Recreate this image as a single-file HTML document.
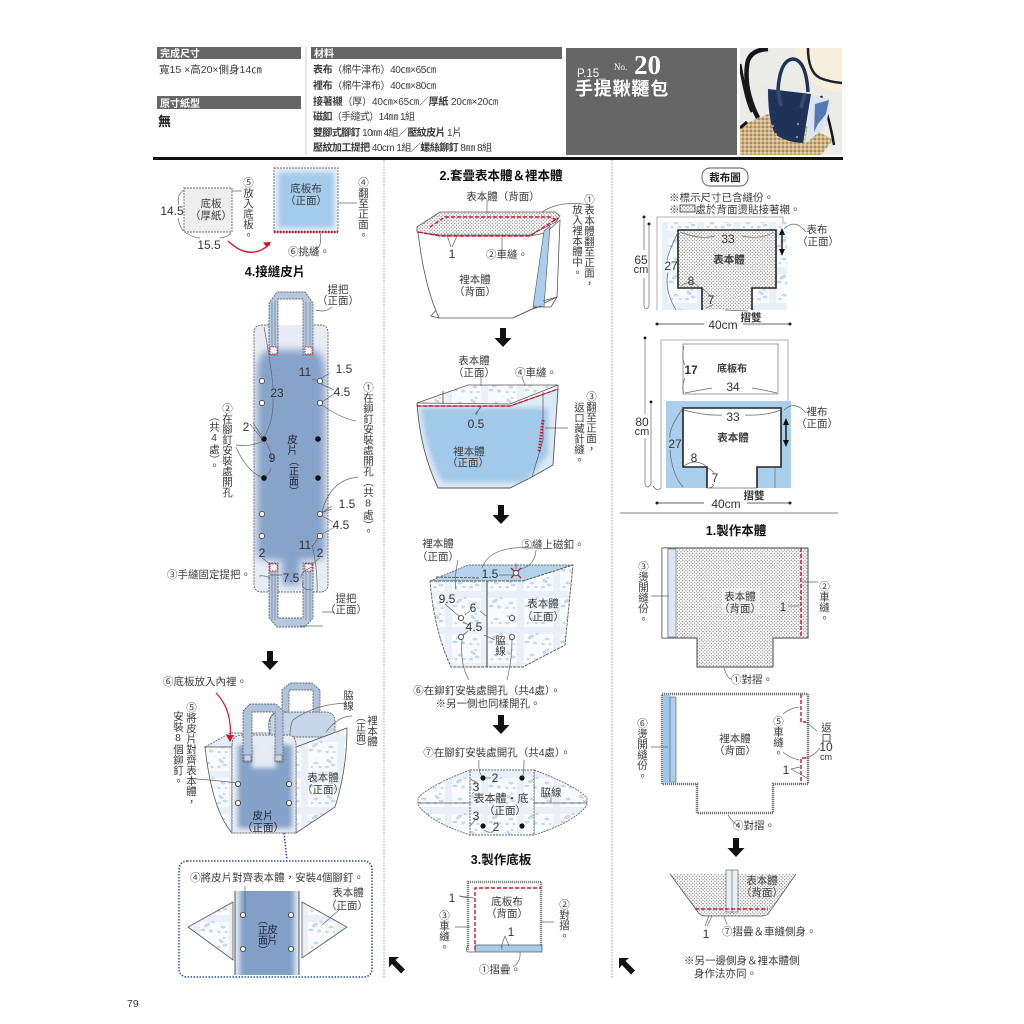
<!DOCTYPE html>
<html lang="zh-TW"><head><meta charset="utf-8"><title>手提鞦韆包</title>
<style>
html,body{margin:0;padding:0;background:#fff}
svg{display:block}
text{font-family:"Liberation Sans","Noto Sans CJK TC",sans-serif;font-size:10.5px;fill:#3c3c3c}
.m{text-anchor:middle}
.n{font-size:12px;text-anchor:middle;fill:#333}
.v{writing-mode:vertical-rl;text-orientation:upright;font-size:10.5px}
.h{font-weight:700;fill:#111;font-size:12.5px;text-anchor:middle}
.w{fill:#fff;font-size:10px;font-weight:700}
.l{fill:none;stroke:#666;stroke-width:.7}
.o{stroke:#666;stroke-width:.9;stroke-dasharray:2 1}
.s{stroke:#555;stroke-width:.8}
.r{fill:none;stroke:#d3132c;stroke-width:1.4;stroke-dasharray:4 2}
.b{fill:none;stroke:#222;stroke-width:1.6}
</style></head><body>
<svg xmlns="http://www.w3.org/2000/svg" width="1024" height="1024" viewBox="0 0 1024 1024">
<defs>
<pattern id="dot" width="3.4" height="3.4" patternUnits="userSpaceOnUse"><rect width="3.4" height="3.4" fill="#fff"/><circle cx=".9" cy=".9" r=".62" fill="#777"/><circle cx="2.6" cy="2.6" r=".62" fill="#777"/></pattern>
<pattern id="fl" width="36" height="36" patternUnits="userSpaceOnUse"><rect width="36" height="36" fill="#f8fbfd"/><rect x="13" width="7" height="36" fill="#e9f0f8"/><rect y="15" width="36" height="7" fill="#e9f0f8"/>
<g fill="#c9d8ea"><ellipse cx="5" cy="5" rx="3" ry="1.600" transform="rotate(35 5 5)"/><ellipse cx="9" cy="9" rx="2.500" ry="1.400"/><ellipse cx="3" cy="11" rx="2" ry="1.200"/><ellipse cx="8" cy="2" rx="1.600" ry="1"/><ellipse cx="27" cy="25" rx="3.500" ry="1.800" transform="rotate(-30 27 25)"/><ellipse cx="23" cy="30" rx="2.500" ry="1.400"/><ellipse cx="31" cy="31" rx="2" ry="1.500"/><ellipse cx="33" cy="22" rx="1.600" ry="1.100"/><ellipse cx="7" cy="27" rx="2.500" ry="1.400"/><ellipse cx="3" cy="32" rx="1.800" ry="1.100"/><ellipse cx="10" cy="32" rx="1.500" ry="1"/><ellipse cx="28" cy="7" rx="2.500" ry="1.400"/><ellipse cx="32" cy="11" rx="1.800" ry="1.100"/><ellipse cx="24" cy="11" rx="1.500" ry="1"/></g></pattern>
<pattern id="rat" width="4" height="4" patternUnits="userSpaceOnUse"><rect width="4" height="4" fill="#cdb283"/><circle cx="1" cy="1" r=".9" fill="#f0e4c8"/><circle cx="3" cy="3" r=".9" fill="#8d7547"/></pattern>
<filter id="bl" x="-30%" y="-30%" width="160%" height="160%"><feGaussianBlur stdDeviation="4"/></filter>
<filter id="bs" x="-30%" y="-30%" width="160%" height="160%"><feGaussianBlur stdDeviation="2.500"/></filter>
<path id="da" d="M-3-10h6V0h5.500L0 9-8.500 0H-3z" fill="#111"/>
<path id="na" d="M-8-8H2L-1.500-5 8 4.500 4 8.500-5-1-8 2.500z" fill="#111"/>
<clipPath id="c1"><path d="M262 325H269V355H278V325H303V355H313V325H320Q328 325 328 333V584Q328 592 320 592H313V563H303V592H278V563H269V592H262Q254 592 254 584V333Q254 325 262 325Z"/></clipPath>
<clipPath id="c2"><path d="M232 745Q232 735 243 735H296V833H232Z"/></clipPath>
<clipPath id="c3"><rect x="235" y="891" width="64" height="84"/></clipPath>
<clipPath id="c4"><path d="M417 406H510L558 389 553 465 532 477 510 488H438Q420 450 417 406Z"/></clipPath>
<clipPath id="c5"><rect x="274" y="168" width="64" height="64"/></clipPath>
<clipPath id="ph"><rect x="740" y="48" width="102" height="107"/></clipPath>
</defs>
<rect width="1024" height="1024" fill="#fff"/>

<!-- HEADER -->
<rect x="157" y="47" width="144" height="12" fill="#666"/><text x="160" y="57" class="w">完成尺寸</text>
<text x="159" y="73">寬15 ×高20×側身14㎝</text>
<rect x="157" y="96" width="144" height="13" fill="#666"/><text x="160" y="107" class="w">原寸紙型</text>
<text x="158" y="126" style="font-size:13px;font-weight:700;fill:#111">無</text>
<path d="M306 47V155" stroke="#bbb" stroke-width=".7"/>
<rect x="311" y="47" width="251" height="12" fill="#666"/><text x="314" y="57" class="w">材料</text>
<text x="313" y="73" textLength="123" style="font-size:10px"><tspan font-weight="700">表布</tspan>（棉牛津布）40㎝×65㎝</text>
<text x="313" y="89" textLength="123" style="font-size:10px"><tspan font-weight="700">裡布</tspan>（棉牛津布）40㎝×80㎝</text>
<text x="313" y="105" textLength="185" style="font-size:10px"><tspan font-weight="700">接著襯</tspan>（厚）40㎝×65㎝／<tspan font-weight="700">厚紙</tspan> 20㎝×20㎝</text>
<text x="313" y="120" textLength="102" style="font-size:10px"><tspan font-weight="700">磁釦</tspan>（手縫式）14㎜ 1組</text>
<text x="313" y="136" textLength="149" style="font-size:10px"><tspan font-weight="700">雙腳式腳釘</tspan> 10㎜ 4組／<tspan font-weight="700">壓紋皮片</tspan> 1片</text>
<text x="313" y="151" textLength="179" style="font-size:10px"><tspan font-weight="700">壓紋加工提把</tspan> 40cm 1組／<tspan font-weight="700">螺絲鉚釘</tspan> 8㎜ 8組</text>
<rect x="566" y="48" width="171" height="107" fill="#666"/>
<text x="577" y="77" style="fill:#fff;font-size:11.500px">P.15_</text>
<text x="614" y="70" style="fill:#fff;font:9px 'Liberation Serif',serif">No.</text>
<text x="634" y="74" style="fill:#fff;font:700 27px 'Liberation Serif',serif">20</text>
<text x="575" y="95" style="fill:#fff;font-size:18px;font-weight:700;letter-spacing:.8px">手提鞦韆包</text>
<!-- photo -->
<g clip-path="url(#ph)">
<rect x="740" y="48" width="102" height="107" fill="#ebebe7"/>
<path d="M793 48H842V92Q815 90 803 72Z" fill="#f6efdc"/>
<path d="M808 48Q808 72 820 78Q830 82 842 83" fill="none" stroke="#1c2230" stroke-width="2.500"/>
<path d="M740 126L768 114Q800 120 833 140L821 155H740Z" fill="url(#rat)"/>
<path d="M768 49Q748 50 747 66Q744 90 758 118" fill="none" stroke="#17171b" stroke-width="4.500"/>
<path d="M740 64Q746 100 752 112M740 128L747 122" fill="none" stroke="#17171b" stroke-width="3"/>
<path d="M821 96Q830 120 834 145" fill="none" stroke="#17171b" stroke-width="2.500"/>
<path d="M765 86L775 91 770 112Z" fill="#dfe7f2"/>
<path d="M811 96L831 99 826 126 805 144Z" fill="#dbe5f1"/>
<path d="M815 104l14-4-3 14-8 10-4 8z" fill="#5579b3"/>
<path d="M778 90Q780 60 793 59Q806 60 808 92" fill="none" stroke="#1f3358" stroke-width="3.500"/>
<path d="M768 89L811 94 803 143Q785 142 775 134Q768 120 768 89Z" fill="#1f3358"/>
<path d="M778 90L781 106M805 94L801 108" stroke="#34496f" stroke-width="4"/>
<circle cx="773" cy="126" r=".9" fill="#ddd"/><circle cx="798" cy="124" r=".9" fill="#ddd"/><circle cx="776" cy="134" r=".9" fill="#ddd"/><circle cx="797" cy="137" r=".9" fill="#ddd"/>
</g>
<rect x="153" y="157" width="690" height="3" fill="#111"/>

<!-- separators -->
<path d="M384 160V978M612 160V978" stroke="#aaa" stroke-width="1.200" stroke-dasharray="1.500 1.500"/>
<path d="M620 513H838" stroke="#999" stroke-width="1.200"/>

<!-- ========== LEFT COLUMN ========== -->
<rect x="184" y="188" width="48" height="44" fill="#eee" class="o"/>
<text x="211" y="207" class="m">底板</text><text x="211" y="219" class="m">（厚紙）</text>
<path class="l" d="M184 190Q176 195 179 205M178 218Q180 228 184 231M186 233Q195 238 200 238M220 238Q228 237 231 233M232 191H242"/>
<text x="172" y="215" class="n">14.5</text><text x="209" y="249" class="n">15.5</text>
<rect x="274" y="168" width="64" height="64" fill="#e9f1f9"/>
<g clip-path="url(#c5)"><rect x="278" y="172" width="56" height="56" fill="#a5cbea" filter="url(#bs)"/></g>
<rect x="274" y="168" width="64" height="64" fill="none" class="o"/>
<path d="M274 232H338" stroke="#d3132c" stroke-width="2.500" stroke-dasharray="1.500 1.500"/>
<text x="306" y="192" class="m">底板布</text><text x="306" y="204" class="m">（正面）</text>
<path d="M228 241Q250 262 270 244" fill="none" stroke="#d3132c" stroke-width="1.300"/><path d="M271 242l-8 .5 4 5z" fill="#d3132c"/>
<text x="248" y="177" class="v">⑤放入底板。</text>
<text x="363" y="177" class="v">④翻至正面。</text>
<path class="l" d="M338 203H357M320 232Q322 244 318 248"/>
<text x="309" y="255" class="m">⑥挑縫。</text>
<text x="275" y="276" class="h">4.接縫皮片</text>

<!-- leather strip -->
<path d="M262 325H320Q328 325 328 333V584Q328 592 320 592H262Q254 592 254 584V333Q254 325 262 325Z" fill="#e8edf5"/>
<g clip-path="url(#c1)"><path d="M257 372Q257 354 268 350H314Q325 354 325 372V552Q325 560 314 560H300V585H282V560H268Q257 560 257 552Z" fill="#86a3c9" filter="url(#bl)"/></g>
<path d="M269 325H262Q254 325 254 333V584Q254 592 262 592H269M313 592H320Q328 592 328 584V333Q328 325 320 325H313M278 592H303" fill="none" class="o"/>
<!-- handles -->
<path d="M269 355V303L277 292H305L313 303V355H303V299H278V355Z" fill="#b6c8df" class="o"/>
<path d="M269 563V618L277 627H305L313 618V563H303V618H278V563Z" fill="#b6c8df" class="o"/>
<path d="M272 355V302M275 355V300M306 355V302M310 355V302M272 563V620M275 563V620M306 563V620M310 563V620" stroke="#567" stroke-width=".5"/>
<g fill="#fff" stroke="#d3132c" stroke-width="1" stroke-dasharray="1.500 1"><rect x="270" y="347" width="7" height="7"/><rect x="305" y="347" width="7" height="7"/><rect x="270" y="564" width="7" height="7"/><rect x="305" y="564" width="7" height="7"/></g>
<g fill="#fff" stroke="#333" stroke-width=".7"><circle cx="262" cy="381" r="2.600"/><circle cx="262" cy="403" r="2.600"/><circle cx="320" cy="381" r="2.600"/><circle cx="320" cy="403" r="2.600"/><circle cx="262" cy="514" r="2.600"/><circle cx="262" cy="536" r="2.600"/><circle cx="320" cy="514" r="2.600"/><circle cx="320" cy="536" r="2.600"/></g>
<g fill="#111"><circle cx="264" cy="439" r="2.800"/><circle cx="264" cy="478" r="2.800"/><circle cx="318" cy="439" r="2.800"/><circle cx="318" cy="478" r="2.800"/></g>
<path class="l" d="M264 327Q272 370 273 388M273 398Q274 420 264 437M266 442Q274 458 271 462M271 468Q270 474 265 476M253 423L263 438M250 424L262 439M236 445Q252 447 263 441M236 447Q246 470 261 477M312 379L318 381M320 379L330 373M321 384L334 390M322 402L334 394M322 405Q340 418 356 421M322 512Q330 480 358 477M321 513L332 506M321 513L332 509M322 516L333 522M322 534L335 527M312 547L318 538M312 545Q318 570 317 592M322 612H334M316 310Q325 313 332 307M282 575H270M262 558Q268 562 270 565M320 558Q314 562 312 565M312 567Q300 572 301 578M312 590Q300 590 303 582M270 578Q264 575 259 576M300 626H323"/>
<text x="338" y="293" class="m">提把</text><text x="338" y="304" class="m">（正面）</text>
<text x="305" y="376" class="n">11</text><text x="344" y="373" class="n">1.5</text><text x="342" y="396" class="n">4.5</text><text x="277" y="397" class="n">23</text>
<text x="368" y="382" class="v">①在鉚釘安裝處開孔（共8處）。</text>
<text x="227" y="403" class="v">②在腳釘安裝處開孔</text>
<text x="214" y="411" class="v">（共4處）。</text>
<text x="246" y="431" class="n">2</text><text x="272" y="462" class="n">9</text>
<text x="292" y="434" class="v" style="fill:#223">皮片</text><text x="292" y="456" class="v" style="fill:#223;font-size:10px">（正面）</text>
<text x="347" y="508" class="n">1.5</text><text x="341" y="529" class="n">4.5</text><text x="305" y="549" class="n">11</text>
<text x="262" y="557" class="n">2</text><text x="320" y="557" class="n">2</text><text x="291" y="582" class="n">7.5</text>
<text x="167" y="578">③手縫固定提把。</text>
<text x="346" y="602" class="m">提把</text><text x="346" y="613" class="m">（正面）</text>

<use href="#da" x="270" y="661"/>
<text x="163" y="685">⑥底板放入內裡。</text>
<!-- bag 1 -->
<path d="M205 747L230 733H347L296 747Z" fill="#e3eef8" class="o"/>
<path d="M270 737V722Q270 712 280 712H325Q335 712 335 722V732L330 737Z" fill="#c6d5e8" class="o"/>
<path d="M282 712V690L290 683H312L320 690V712H313V690H289V712Z" fill="#afc3dc" class="o"/>
<path d="M296 747L347 728Q347 770 335 807L296 833Z" fill="url(#fl)" class="s"/>
<path d="M205 747H232V833Q212 810 205 747Z" fill="url(#fl)" class="s"/>
<path d="M232 745Q232 735 243 735H290Q296 737 296 745V833H232Z" fill="#e6ecf5"/>
<g clip-path="url(#c2)"><path d="M238 745H252V768H276V745H292V828H238Z" fill="#85a2c8" filter="url(#bs)"/></g>
<path d="M232 745Q232 735 243 735H290Q296 737 296 745V833H232Z" fill="none" class="o"/>
<path d="M243 762V711L250 704H276L283 711V762H275V712H252V762Z" fill="#afc3dc" class="o"/>
<rect x="244" y="755" width="7" height="6" fill="#c7d4e6" stroke="#555" stroke-width=".5"/><rect x="275" y="755" width="7" height="6" fill="#c7d4e6" stroke="#555" stroke-width=".5"/>
<g fill="#fff" stroke="#333" stroke-width=".8"><circle cx="238" cy="784" r="2.600"/><circle cx="238" cy="803" r="2.600"/><circle cx="289" cy="784" r="2.600"/><circle cx="289" cy="803" r="2.600"/></g>
<path d="M216 693Q233 710 230 741" fill="none" stroke="#d3132c" stroke-width="1.200"/><path d="M230 742l-4-7 8 0z" fill="#d3132c"/>
<path class="l" d="M195 779Q215 780 236 783M347 703Q315 704 293 720Q290 726 290 735M352 716Q338 716 326 732M270 735Q266 718 274 714"/>
<text x="191" y="702" class="v">⑤將皮片對齊表本體，</text>
<text x="178" y="711" class="v">安裝8個鉚釘。</text>
<text x="348" y="690" class="v">脇線</text>
<text x="372" y="715" class="v">裡本體</text>
<text x="359" y="712" class="v" style="font-size:10px">（正面）</text>
<text x="323" y="781" class="m">表本體</text><text x="323" y="793" class="m">（正面）</text>
<text x="263" y="819" class="m" style="fill:#223">皮片</text><text x="263" y="831" class="m" style="fill:#223">（正面）</text>
<path d="M284 833L287 860" stroke="#2b4f92" stroke-width="1.500" stroke-dasharray="1.500 1.500"/>
<rect x="179" y="861" width="193" height="116" rx="8" fill="#fff" stroke="#2b4f92" stroke-width="1.500" stroke-dasharray="1.500 1.500"/>
<text x="277" y="881" class="m">④將皮片對齊表本體，安裝4個腳釘。</text>
<path d="M233 902L188 927 233 960Z" fill="url(#fl)" class="s"/>
<path d="M302 902L347 927 302 958Z" fill="url(#fl)" class="s"/>
<rect x="235" y="891" width="64" height="84" fill="#dce5f1"/>
<g clip-path="url(#c3)"><rect x="240" y="880" width="54" height="100" fill="#82a0c7" filter="url(#bs)"/></g>
<path d="M235 891V975M299 891V975" stroke="#444" stroke-width=".9"/>
<g fill="#fff" stroke="#333" stroke-width=".8"><circle cx="243" cy="915" r="2.600"/><circle cx="291" cy="915" r="2.600"/><circle cx="243" cy="949" r="2.600"/><circle cx="291" cy="949" r="2.600"/></g>
<path class="l" d="M245 886V913M339 910L322 925"/>
<text x="348" y="896" class="m">表本體</text><text x="347" y="909" class="m">（正面）</text>
<text x="272" y="924" class="v" style="fill:#223">皮片</text><text x="261" y="915" class="v" style="fill:#223;font-size:10px">（正面）</text>

<!-- ========== MIDDLE COLUMN ========== -->
<text x="501" y="180" class="h">2.套疊表本體＆裡本體</text>
<text x="503" y="200" class="m">表本體（背面）</text>
<path d="M418 232Q424 285 439 318H513L530 310 557 297 560 220 545 233 530 236H440Z" fill="#fff" class="s"/>
<path d="M417 227L440 212H555L560 216 556 222 530 235H440L417 232Z" fill="url(#dot)" stroke="#555" stroke-width=".8"/>
<path d="M544 231L550 226 544 307 533 307Z" fill="#a9cfee" stroke="#555" stroke-width=".6"/>
<path d="M533 307L551 307 557 297 543 301M439 318L431 316 436 310M513 318L530 310 541 306" fill="none" stroke="#555" stroke-width=".8"/>
<path class="r" d="M418 232L440 236H530L558 218"/><path class="r" d="M430 227L445 217H550L557 220"/>
<path class="l" d="M487 200V214M590 205Q560 200 542 212M457 236L452 247M447 235L451 247M502 236V250"/>
<text x="452" y="258" class="n">1</text><text x="507" y="258" class="m">②車縫。</text>
<text x="475" y="283" class="m">裡本體</text><text x="475" y="295" class="m">（背面）</text>
<text x="589" y="194" class="v">①表本體翻至正面，</text><text x="577" y="204" class="v">放入裡本體中。</text>
<use href="#da" x="503" y="338"/>
<text x="474" y="364" class="m">表本體</text><text x="474" y="376" class="m">（正面）</text><text x="536" y="376" class="m">④車縫。</text>
<path d="M417 403L468 385H558L510 404Z" fill="url(#fl)" class="s"/>
<path d="M417 406H510L558 389 553 465 532 477 510 488H438Q420 450 417 406Z" fill="#dceaf6"/>
<g clip-path="url(#c4)"><path d="M421 408H548V455L525 482H442Q425 450 421 408Z" fill="#a2c9e9" filter="url(#bs)"/></g>
<path d="M417 403V406H510L558 389V385M558 389L553 465 532 477 510 488H438Q420 450 417 403M443 391V404" fill="none" stroke="#555" stroke-width=".9"/>
<path d="M543 392V440L532 477" fill="none" stroke="#555" stroke-width=".7"/>
<path class="r" d="M417 406H510L558 389"/>
<path d="M543 420L539 452" stroke="#d3132c" stroke-width="3" stroke-dasharray="1.500 1.500"/>
<path class="l" d="M480 407L476 415M481 407L475 414M545 428H568M522 377L525 386M481 373V386"/>
<text x="476" y="428" class="n">0.5</text>
<text x="469" y="455" class="m">裡本體</text><text x="468" y="466" class="m">（正面）</text>
<text x="591" y="391" class="v">③翻至正面，</text><text x="579" y="402" class="v">返口藏針縫。</text>
<use href="#da" x="501" y="515"/>
<text x="438" y="547" class="m">裡本體</text><text x="438" y="560" class="m">（正面）</text><text x="553" y="548" class="m">⑤縫上磁釦。</text>
<path d="M430 581L468 565H573L523 581Z" fill="#b4d4ee" class="o"/>
<path d="M430 581H487V667H451Q434 630 430 581Z" fill="url(#fl)"/>
<path d="M487 581H523L573 565 565 645 523 667H487Z" fill="url(#fl)"/>
<path d="M430 581H523L573 565 565 645 523 667H451Q434 630 430 581M436 577L480 578" fill="none" stroke="#555" stroke-width=".9" stroke-dasharray="3 1"/>
<path d="M487 581V667" stroke="#444" stroke-width="1"/>
<g stroke="#d3132c" stroke-width="1.300"><path d="M511 568l10 10M521 568l-10 10"/></g><circle cx="516" cy="573" r="2.500" fill="#fff" stroke="#333" stroke-width=".7"/>
<g fill="#fff" stroke="#333" stroke-width=".8"><circle cx="461" cy="618" r="2.600"/><circle cx="461" cy="637" r="2.600"/><circle cx="512" cy="618" r="2.600"/><circle cx="512" cy="637" r="2.600"/></g>
<path class="l" d="M458 560Q454 578 456 590M445 604Q454 612 460 617M465 615L470 611M480 611L486 616M463 622L469 625M463 635L468 631M484 635L495 640M462 640Q460 665 469 680M512 640Q512 660 507 680M532 548Q490 545 482 568M536 550Q535 565 521 569M516 563V570M499 575H513"/>
<text x="490" y="578" class="n">1.5</text><text x="447" y="603" class="n">9.5</text><text x="473" y="612" class="n">6</text><text x="474" y="631" class="n">4.5</text>
<text x="543" y="607" class="m">表本體</text><text x="543" y="620" class="m">（正面）</text>
<text x="500" y="635" class="v">脇線</text>
<text x="487" y="694" class="m">⑥在鉚釘安裝處開孔（共4處）。</text>
<text x="488" y="707" class="m">※另一側也同樣開孔。</text>
<use href="#da" x="501" y="725"/>
<text x="497" y="756" class="m">⑦在腳釘安裝處開孔（共4處）。</text>
<path d="M470 770Q430 785 418 798V805Q430 822 470 835Z" fill="url(#fl)" class="o"/>
<path d="M534 770Q575 785 587 798V805Q575 822 534 835Z" fill="url(#fl)" class="o"/>
<rect x="470" y="770" width="64" height="65" fill="url(#fl)" class="o"/>
<path d="M418 803H470M534 803H587" stroke="#555" stroke-width=".8"/>
<g fill="#111"><circle cx="483" cy="778" r="2.600"/><circle cx="522" cy="778" r="2.600"/><circle cx="483" cy="826" r="2.600"/><circle cx="522" cy="826" r="2.600"/></g>
<path class="l" d="M479 760Q478 772 482 776M524 760Q524 770 523 776M486 778H491M470 779L476 782M472 794L474 792M470 826L475 820M484 830Q490 834 494 831M551 797V803"/>
<text x="495" y="782" class="n">2</text><text x="476" y="791" class="n">3</text><text x="476" y="820" class="n">3</text><text x="496" y="831" class="n">2</text>
<text x="501" y="802" class="m" style="font-size:11px">表本體・底</text><text x="505" y="814" class="m">（正面）</text><text x="551" y="796" class="m">脇線</text>
<text x="501" y="864" class="h">3.製作底板</text>
<rect x="468" y="882" width="73" height="68" fill="#fff"/>
<path d="M541 882H468V950M541 882V950" fill="none" stroke="#888" stroke-width="2.500" stroke-dasharray="1.200 .8"/>
<rect x="475" y="945" width="67" height="7" fill="#a6cdee" stroke="#555" stroke-width=".7"/>
<path d="M469 945Q464 950 468 952H475" fill="none" stroke="#555" stroke-width=".7"/>
<path class="r" d="M475 950V888H541"/>
<path class="l" d="M459 896L468 898M459 896L474 898M455 927H470M541 922H554M502 950V946M505 936L501 947M505 936L509 946M520 952Q521 962 513 967"/>
<text x="507" y="905" class="m">底板布</text><text x="507" y="917" class="m">（背面）</text>
<text x="452" y="902" class="n">1</text><text x="511" y="936" class="n">1</text>
<text x="444" y="910" class="v">③車縫。</text><text x="564" y="899" class="v">②對摺。</text>
<text x="500" y="973" class="m">①摺疊。</text>
<use href="#na" x="397" y="965"/><use href="#na" x="627" y="966"/>

<!-- ========== RIGHT COLUMN ========== -->
<rect x="702" y="168" width="46" height="18" rx="8" fill="#fff" stroke="#555" stroke-width=".9"/>
<text x="725" y="181" class="m" style="font-weight:700;fill:#222">裁布圖</text>
<text x="669" y="201">※標示尺寸已含縫份。</text>
<text x="669" y="213">※<tspan dx="16">處於背面燙貼接著襯。</tspan></text>
<rect x="680" y="205" width="15" height="7" fill="url(#dot)" stroke="#333" stroke-width=".8"/>
<path d="M657 310V217H783V222" fill="none" stroke="#999" stroke-width=".8"/>
<rect x="662" y="222" width="125" height="88" fill="url(#fl)"/>
<path d="M678 230H776V288H752V310H702V288H678Z" fill="url(#dot)"/>
<path class="b" d="M702 310V288H678V230H776V288H752V310"/>
<path d="M782 230V254" stroke="#111" stroke-width="1.400"/><path d="M782 228l-3 7h6zM782 256l-3-7h6z" fill="#111"/>
<path class="l" d="M680 232Q700 240 715 236M742 236Q760 240 774 232M678 232Q664 262 668 262M668 272Q664 290 676 310M681 286Q692 278 700 288M703 289Q710 295 711 297M706 308Q712 306 713 304M784 229Q795 218 806 232M725 310L748 311"/>
<rect x="665" y="260" width="12" height="13" fill="#fff" opacity=".5"/>
<text x="728" y="243" class="n">33</text><text x="729" y="263" class="m" style="font-weight:700">表本體</text>
<text x="671" y="270" class="n">27</text><text x="691" y="285" class="n">8</text><text x="711" y="304" class="n">7</text>
<circle cx="644" cy="217" r="1.500" fill="#222"/><circle cx="649" cy="224" r="1.500" fill="#222"/>
<path class="l" d="M644 219V250M644 278V306Q646 312 649 306V226"/>
<text x="641" y="264" class="n">65</text><text x="641" y="273" class="n" style="font-size:11px">cm</text>
<text x="817" y="233" class="m">表布</text><text x="818" y="245" class="m">（正面）</text>
<text x="751" y="321" class="m" style="font-weight:700">摺雙</text>
<path d="M657 324H704M743 324H790" stroke="#333" stroke-width=".7"/><circle cx="657" cy="324" r="1.500" fill="#222"/><circle cx="790" cy="324" r="1.500" fill="#222"/>
<text x="723" y="329" class="n">40cm</text>

<path d="M661 488V340H788V401" fill="none" stroke="#999" stroke-width=".8"/>
<rect x="683" y="344" width="95" height="50" fill="#fff" stroke="#888" stroke-width=".8"/>
<path class="l" d="M684 346Q681 358 685 365M685 378Q681 388 684 393M685 393Q700 390 712 388M752 388Q765 390 777 393"/>
<text x="732" y="372" class="m" style="font-size:10px;font-weight:700">底板布</text>
<text x="691" y="374" class="n" style="font-weight:700">17</text><text x="733" y="391" class="n">34</text>
<path d="M666 401H791V488H757V467H781V408H683V467H707V488H666Z" fill="#a9cfec"/>
<path class="b" d="M707 488V467H683V408H781V467H757V488"/>
<path d="M786 420V445" stroke="#111" stroke-width="1.400"/><path d="M786 418l-3 7h6zM786 447l-3-7h6z" fill="#111"/>
<path class="l" d="M684 410Q705 416 722 415M745 415Q765 416 781 410M683 408Q668 430 670 438M670 450Q672 475 683 487M684 466Q695 458 706 466M708 468Q715 472 713 474M712 484Q716 486 709 488M784 410Q795 400 806 413M707 488H757M775 467V488"/>
<text x="733" y="421" class="n">33</text><text x="733" y="441" class="m" style="font-weight:700">表本體</text>
<text x="675" y="448" class="n">27</text><text x="694" y="462" class="n">8</text><text x="715" y="482" class="n">7</text>
<circle cx="645" cy="338" r="1.500" fill="#222"/><circle cx="651" cy="402" r="1.500" fill="#222"/>
<path class="l" d="M645 340V414M645 438V484Q647 490 651 484V404M661 488Q657 492 653 486"/>
<text x="642" y="426" class="n">80</text><text x="642" y="435" class="n" style="font-size:11px">cm</text>
<text x="817" y="415" class="m">裡布</text><text x="817" y="427" class="m">（正面）</text>
<text x="754" y="499" class="m" style="font-weight:700">摺雙</text>
<path d="M657 503H704M747 503H790" stroke="#333" stroke-width=".7"/><circle cx="657" cy="503" r="1.500" fill="#222"/><circle cx="790" cy="503" r="1.500" fill="#222"/>
<text x="726" y="508" class="n">40cm</text>

<text x="736" y="535" class="h">1.製作本體</text>
<path d="M662 548H808V638H773V667H697V638H662Z" fill="url(#dot)" stroke="#666" stroke-width="1.200"/>
<rect x="662" y="548" width="6" height="90" fill="#fff" stroke="#666" stroke-width=".7"/>
<rect x="668" y="549" width="8" height="88" fill="#dde8f4" stroke="#666" stroke-width=".6"/>
<path class="r" d="M801 548V638"/>
<path class="l" d="M651 596H669M788 606H799M802 582H818M724 668Q728 680 732 679"/>
<rect x="722" y="588" width="38" height="26" fill="#fff" opacity=".45"/>
<text x="740" y="600" class="m">表本體</text><text x="740" y="612" class="m">（背面）</text>
<text x="783" y="611" class="n">1</text>
<text x="643" y="561" class="v">③燙開縫份。</text><text x="824" y="581" class="v">②車縫。</text>
<text x="752" y="683" class="m">①對摺。</text>

<path d="M662 694H808V784H773V813H697V784H662Z" fill="#fff"/>
<path d="M662 694H808V784H773V813H697V784H662Z" fill="none" stroke="#777" stroke-width="2.500" stroke-dasharray="1.200 .8"/>
<rect x="663" y="695" width="7" height="88" fill="#9bc8ec"/><rect x="670" y="697" width="6" height="85" fill="#a9cfee" stroke="#555" stroke-width=".6"/>
<path class="r" d="M801 694V722H806"/><path class="r" d="M806 758H801V784"/>
<path class="l" d="M651 747H668M783 714Q790 708 799 707M783 752Q790 758 799 760M806 722L817 731M806 758Q814 756 820 748M791 769L800 767M791 769L807 778M728 815Q735 825 738 825"/>
<text x="735" y="742" class="m">裡本體</text><text x="735" y="754" class="m">（背面）</text>
<text x="778" y="716" class="v">⑤車縫。</text><text x="826" y="722" class="v">返口</text>
<text x="826" y="751" class="n" style="font-size:12px">10</text><text x="826" y="760" class="n" style="font-size:9px">cm</text>
<text x="786" y="774" class="n">1</text>
<text x="642" y="718" class="v">⑥燙開縫份。</text>
<text x="754" y="829" class="m">④對摺。</text>
<use href="#da" x="736" y="848"/>
<path d="M670 874H796L768 914Q766 916 760 916H706Q700 916 698 912Z" fill="url(#dot)"/>
<path d="M670 874L698 912Q700 916 706 916H760Q766 916 768 914L796 874" fill="none" stroke="#555" stroke-width=".8"/>
<rect x="726" y="870" width="12" height="42" fill="#e8eff7" stroke="#555" stroke-width=".6"/><path d="M732 870V913" stroke="#555" stroke-width=".6"/>
<path class="r" d="M695 909H768"/>
<path class="l" d="M709 916L705 926M712 916L707 926M724 916L727 925"/>
<text x="762" y="884" class="m">表本體</text><text x="762" y="896" class="m">（背面）</text>
<text x="706" y="938" class="n">1</text>
<text x="722" y="935">⑦摺疊＆車縫側身。</text>
<text x="684" y="964">※另一邊側身＆裡本體側</text>
<text x="694" y="977">身作法亦同。</text>
<text x="127" y="1007" style="font-size:10.500px;fill:#333">79</text>
</svg>
</body></html>
